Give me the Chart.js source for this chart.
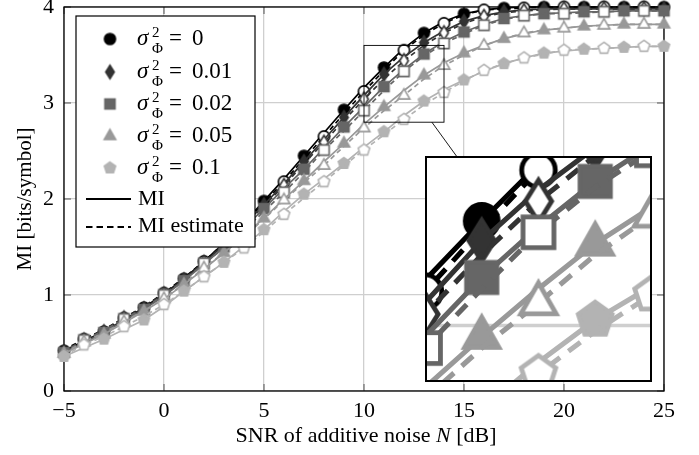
<!DOCTYPE html>
<html>
<head>
<meta charset="utf-8">
<script src="https://cdn.jsdelivr.net/npm/chart.js@4.4.1/dist/chart.umd.min.js"></script>
<style>
  html, body { margin: 0; padding: 0; background: #fff; }
  #wrap { position: relative; width: 699px; height: 455px; }
  #main { position: absolute; left: 0; top: 0; }
  #zoom { position: absolute; left: 425px; top: 156px; }
</style>
</head>
<body>
<div id="wrap">
  <canvas id="main" width="699" height="455"></canvas>
  <canvas id="zoom" width="227" height="226"></canvas>
</div>
<script>
// SNR grid [dB]
const snr = [-5, -4, -3, -2, -1, 0, 1, 2, 3, 4, 5, 6, 7, 8, 9, 10, 11, 12, 13, 14, 15, 16, 17, 18, 19, 20, 21, 22, 23, 24, 25];

// MI (solid) and MI estimate (dashed), one pair per phase noise variance
const mi0  = [0.42, 0.52, 0.62, 0.74, 0.87, 1.01, 1.17, 1.35, 1.54, 1.75, 1.98, 2.21, 2.45, 2.69, 2.93, 3.16, 3.37, 3.57, 3.73, 3.85, 3.93, 3.97, 3.99, 4.00, 4.00, 4.00, 4.00, 4.00, 4.00, 4.00, 4.00];
const est0 = [0.43, 0.54, 0.64, 0.76, 0.88, 1.02, 1.18, 1.35, 1.54, 1.74, 1.96, 2.18, 2.42, 2.65, 2.89, 3.12, 3.34, 3.55, 3.71, 3.83, 3.92, 3.97, 3.98, 3.99, 4.00, 4.00, 4.00, 4.00, 4.00, 4.00, 4.00];
const mi1  = [0.41, 0.51, 0.62, 0.74, 0.86, 1.00, 1.16, 1.34, 1.52, 1.73, 1.94, 2.16, 2.39, 2.62, 2.85, 3.08, 3.30, 3.48, 3.63, 3.75, 3.85, 3.91, 3.95, 3.97, 3.98, 3.98, 3.98, 3.98, 3.98, 3.98, 3.98];
const est1 = [0.42, 0.53, 0.64, 0.76, 0.88, 1.01, 1.17, 1.34, 1.53, 1.72, 1.93, 2.14, 2.37, 2.59, 2.82, 3.04, 3.25, 3.44, 3.60, 3.73, 3.83, 3.90, 3.94, 3.96, 3.97, 3.98, 3.98, 3.98, 3.98, 3.98, 3.98];
const mi2  = [0.40, 0.50, 0.61, 0.73, 0.85, 0.99, 1.15, 1.32, 1.50, 1.70, 1.90, 2.11, 2.31, 2.53, 2.75, 2.96, 3.17, 3.35, 3.51, 3.64, 3.74, 3.82, 3.88, 3.91, 3.93, 3.94, 3.95, 3.95, 3.96, 3.96, 3.96];
const est2 = [0.41, 0.53, 0.63, 0.75, 0.86, 1.00, 1.15, 1.33, 1.49, 1.68, 1.87, 2.07, 2.28, 2.51, 2.71, 2.92, 3.13, 3.33, 3.49, 3.62, 3.72, 3.81, 3.87, 3.91, 3.93, 3.93, 3.94, 3.95, 3.96, 3.96, 3.96];
const mi3  = [0.39, 0.49, 0.59, 0.71, 0.83, 0.96, 1.11, 1.27, 1.44, 1.62, 1.80, 2.00, 2.19, 2.39, 2.58, 2.78, 2.96, 3.13, 3.29, 3.42, 3.52, 3.60, 3.67, 3.72, 3.76, 3.78, 3.80, 3.81, 3.82, 3.82, 3.82];
const est3 = [0.40, 0.51, 0.61, 0.72, 0.84, 0.96, 1.12, 1.28, 1.44, 1.61, 1.79, 1.99, 2.17, 2.35, 2.55, 2.74, 2.92, 3.08, 3.25, 3.39, 3.50, 3.60, 3.67, 3.73, 3.76, 3.78, 3.80, 3.81, 3.82, 3.82, 3.82];
const mi4  = [0.36, 0.45, 0.54, 0.64, 0.74, 0.88, 1.04, 1.19, 1.34, 1.51, 1.68, 1.87, 2.05, 2.21, 2.37, 2.54, 2.70, 2.87, 3.02, 3.14, 3.24, 3.33, 3.41, 3.47, 3.52, 3.54, 3.56, 3.57, 3.58, 3.59, 3.59];
const est4 = [0.37, 0.48, 0.57, 0.67, 0.78, 0.90, 1.04, 1.19, 1.34, 1.49, 1.66, 1.84, 2.01, 2.18, 2.35, 2.51, 2.67, 2.83, 2.98, 3.11, 3.23, 3.34, 3.41, 3.47, 3.51, 3.55, 3.56, 3.57, 3.58, 3.59, 3.59];

const sigmaLabels = ['0', '0.01', '0.02', '0.05', '0.1'];
const xTicks = [-5, 0, 5, 10, 15, 20, 25];
const yTicks = [0, 1, 2, 3, 4];
const zoomX = [10, 14];
const zoomY = [2.8, 3.6];

const miSeries = [mi0, mi1, mi2, mi3, mi4];
const estSeries = [est0, est1, est2, est3, est4];
const colors = ['#000000', '#333333', '#666666', '#999999', '#b3b3b3'];
const shapes = ['circle', 'diamond', 'square', 'triangle', 'pentagon'];

const SERIF = "'Liberation Serif', 'DejaVu Serif', serif";
const INSET = { left: 425, top: 156, w: 227, h: 226 };

function markerCanvas(shape, r, fill, stroke, lw) {
  const pad = Math.ceil(lw) + 2;
  const size = Math.ceil(2 * r * 1.3) + 2 * pad;
  const c = document.createElement('canvas');
  c.width = c.height = size;
  const g = c.getContext('2d');
  g.translate(size / 2, size / 2);
  g.beginPath();
  if (shape === 'circle') {
    g.arc(0, 0, r, 0, 2 * Math.PI);
  } else if (shape === 'square') {
    g.rect(-r * 0.92, -r * 0.92, r * 1.84, r * 1.84);
  } else if (shape === 'diamond') {
    g.moveTo(0, -r * 1.25); g.lineTo(r * 0.78, 0); g.lineTo(0, r * 1.25); g.lineTo(-r * 0.78, 0);
    g.closePath();
  } else if (shape === 'triangle') {
    g.moveTo(0, -r * 1.2); g.lineTo(r * 1.05, r * 0.65); g.lineTo(-r * 1.05, r * 0.65);
    g.closePath();
  } else {
    for (let k = 0; k < 5; k++) {
      const a = (-90 + 72 * k) * Math.PI / 180;
      const px = Math.cos(a) * r * 1.08, py = Math.sin(a) * r * 1.08;
      if (k === 0) g.moveTo(px, py); else g.lineTo(px, py);
    }
    g.closePath();
  }
  g.fillStyle = fill;
  g.fill();
  g.lineWidth = lw;
  g.strokeStyle = stroke;
  g.lineJoin = 'miter';
  g.stroke();
  return c;
}

const legendMarkers = shapes.map((s, i) => markerCanvas(s, 5.6, colors[i], colors[i], 1.4));

function buildDatasets(k) {
  const sets = [];
  let n = 0;
  for (let i = 0; i < miSeries.length; i++) {
    const filled = markerCanvas(shapes[i], 5.6 * k, colors[i], colors[i], 1.4 * k);
    const hollow = markerCanvas(shapes[i], 5.6 * k, '#ffffff', colors[i], 1.6 * k);
    sets.push({
      data: snr.map((x, j) => ({ x: x, y: miSeries[i][j] })),
      borderColor: colors[i],
      backgroundColor: colors[i],
      borderWidth: 1.7 * k,
      pointStyle: filled,
      pointRadius: c => (c.dataIndex % 2 === 0 ? 6 : 0),
      tension: 0,
      order: 100 - n++,
      clip: k === 1 ? false : 0
    });
    sets.push({
      data: snr.map((x, j) => ({ x: x, y: estSeries[i][j] })),
      borderColor: colors[i],
      backgroundColor: '#ffffff',
      borderWidth: 1.7 * k,
      borderDash: [5 * k, 3.5 * k],
      pointStyle: hollow,
      pointRadius: c => (c.dataIndex % 2 === 1 ? 6 : 0),
      tension: 0,
      order: 100 - n++,
      clip: k === 1 ? false : 0
    });
  }
  return sets;
}

function fmtTick(v) {
  return v < 0 ? '\u2212' + Math.abs(v) : String(v);
}

function drawSigmaLabel(ctx, x, cy, val) {
  ctx.fillStyle = '#000';
  ctx.textBaseline = 'alphabetic';
  ctx.textAlign = 'left';
  ctx.font = 'italic 23px ' + SERIF;
  ctx.fillText('\u03c3', x, cy + 6);
  ctx.font = '15px ' + SERIF;
  ctx.fillText('2', x + 15, cy - 2);
  ctx.fillText('\u03a6', x + 15, cy + 14);
  ctx.font = '23px ' + SERIF;
  ctx.fillText('=', x + 32, cy + 6);
  ctx.fillText(val, x + 55, cy + 6);
}

const mainDecor = {
  id: 'mainDecor',
  beforeDatasetsDraw(chart) {
    const { ctx, chartArea: a, scales: { x, y } } = chart;
    ctx.save();
    ctx.strokeStyle = '#555';
    ctx.lineWidth = 1;
    ctx.beginPath();
    xTicks.forEach(v => {
      const px = x.getPixelForValue(v);
      ctx.moveTo(px, a.bottom); ctx.lineTo(px, a.bottom - 7);
      ctx.moveTo(px, a.top); ctx.lineTo(px, a.top + 7);
    });
    yTicks.forEach(v => {
      const py = y.getPixelForValue(v);
      ctx.moveTo(a.left, py); ctx.lineTo(a.left + 7, py);
      ctx.moveTo(a.right, py); ctx.lineTo(a.right - 7, py);
    });
    ctx.stroke();
    ctx.strokeStyle = '#000';
    ctx.lineWidth = 1.3;
    ctx.strokeRect(a.left, a.top, a.right - a.left, a.bottom - a.top);
    ctx.restore();
  },
  afterDraw(chart) {
    const { ctx, chartArea: a, scales: { x, y } } = chart;
    ctx.save();

    // spy rectangle and connector to the inset
    const rx0 = x.getPixelForValue(zoomX[0]), rx1 = x.getPixelForValue(zoomX[1]);
    const ry0 = y.getPixelForValue(zoomY[1]), ry1 = y.getPixelForValue(zoomY[0]);
    ctx.strokeStyle = '#000';
    ctx.lineWidth = 0.9;
    ctx.strokeRect(rx0, ry0, rx1 - rx0, ry1 - ry0);
    const c0 = [(rx0 + rx1) / 2, (ry0 + ry1) / 2];
    const c1 = [INSET.left + INSET.w / 2, INSET.top + INSET.h / 2];
    const dx = c1[0] - c0[0], dy = c1[1] - c0[1];
    const t0 = Math.min(((rx1 - rx0) / 2) / Math.abs(dx), ((ry1 - ry0) / 2) / Math.abs(dy));
    const t1 = 1 - Math.min((INSET.w / 2) / Math.abs(dx), (INSET.h / 2) / Math.abs(dy));
    ctx.beginPath();
    ctx.moveTo(c0[0] + dx * t0, c0[1] + dy * t0);
    ctx.lineTo(c0[0] + dx * t1, c0[1] + dy * t1);
    ctx.stroke();

    // legend
    const L = { left: 76, top: 16, right: 255, bottom: 247 };
    ctx.fillStyle = '#fff';
    ctx.fillRect(L.left, L.top, L.right - L.left, L.bottom - L.top);
    ctx.strokeStyle = '#000';
    ctx.lineWidth = 1.2;
    ctx.strokeRect(L.left, L.top, L.right - L.left, L.bottom - L.top);
    const rowY = [39, 72, 104, 136, 168];
    sigmaLabels.forEach((lab, i) => {
      const m = legendMarkers[i];
      ctx.drawImage(m, 110 - m.width / 2, rowY[i] - m.height / 2);
      drawSigmaLabel(ctx, 137, rowY[i], lab);
    });
    ctx.strokeStyle = '#000';
    ctx.lineWidth = 2;
    ctx.beginPath();
    ctx.moveTo(86, 199); ctx.lineTo(131, 199);
    ctx.stroke();
    ctx.setLineDash([6.5, 4]);
    ctx.beginPath();
    ctx.moveTo(86, 227); ctx.lineTo(131, 227);
    ctx.stroke();
    ctx.setLineDash([]);
    ctx.fillStyle = '#000';
    ctx.font = '22px ' + SERIF;
    ctx.textBaseline = 'middle';
    ctx.textAlign = 'left';
    ctx.fillText('MI', 138, 199);
    ctx.fillText('MI estimate', 138, 226);

    // axis titles
    ctx.font = '21px ' + SERIF;
    ctx.save();
    ctx.translate(25, (a.top + a.bottom) / 2);
    ctx.rotate(-Math.PI / 2);
    ctx.textAlign = 'center';
    ctx.fillText('MI [bits/symbol]', 0, 0);
    ctx.restore();

    const p1 = 'SNR of additive noise ', p2 = 'N', p3 = ' [dB]';
    ctx.font = '22px ' + SERIF;
    const w1 = ctx.measureText(p1).width, w3 = ctx.measureText(p3).width;
    ctx.font = 'italic 22px ' + SERIF;
    const w2 = ctx.measureText(p2).width;
    let tx = (a.left + a.right) / 2 - (w1 + w2 + w3) / 2 + 2;
    const ty = 436;
    ctx.font = '22px ' + SERIF;
    ctx.fillText(p1, tx, ty);
    ctx.font = 'italic 22px ' + SERIF;
    ctx.fillText(p2, tx + w1, ty);
    ctx.font = '22px ' + SERIF;
    ctx.fillText(p3, tx + w1 + w2, ty);
    ctx.restore();
  }
};

new Chart(document.getElementById('main'), {
  type: 'line',
  data: { datasets: buildDatasets(1) },
  options: {
    responsive: false,
    animation: false,
    events: [],
    layout: { autoPadding: false, padding: { left: 0, right: 35, top: 7, bottom: 0 } },
    plugins: { legend: { display: false }, tooltip: { enabled: false } },
    scales: {
      x: {
        type: 'linear', min: -5, max: 25,
        ticks: { stepSize: 5, color: '#000', padding: 7, maxRotation: 0, font: { family: SERIF, size: 22 }, callback: fmtTick },
        grid: { color: '#cfcfcf', lineWidth: 1.3, drawTicks: false },
        border: { display: false },
        afterFit: s => { s.height = 64; s.paddingLeft = 0; s.paddingRight = 0; }
      },
      y: {
        type: 'linear', min: 0, max: 4,
        ticks: { stepSize: 1, color: '#000', padding: 10, font: { family: SERIF, size: 22 }, callback: fmtTick },
        grid: { color: '#cfcfcf', lineWidth: 1.3, drawTicks: false },
        border: { display: false },
        afterFit: s => { s.width = 64; s.paddingTop = 0; s.paddingBottom = 0; }
      }
    }
  },
  plugins: [mainDecor]
});

const insetDecor = {
  id: 'insetDecor',
  beforeDraw(chart) {
    const { ctx, width, height } = chart;
    ctx.save();
    ctx.fillStyle = '#fff';
    ctx.fillRect(0, 0, width, height);
    ctx.restore();
  },
  beforeDatasetsDraw(chart) {
    const { ctx, chartArea: a, scales: { y } } = chart;
    ctx.save();
    ctx.strokeStyle = '#cfcfcf';
    ctx.lineWidth = 3.5;
    yTicks.forEach(v => {
      if (v <= zoomY[0] || v >= zoomY[1]) return;
      const py = y.getPixelForValue(v);
      ctx.beginPath();
      ctx.moveTo(a.left, py); ctx.lineTo(a.right, py);
      ctx.stroke();
    });
    ctx.restore();
  },
  afterDraw(chart) {
    const { ctx, width, height } = chart;
    ctx.save();
    ctx.strokeStyle = '#000';
    ctx.lineWidth = 2;
    ctx.strokeRect(1, 1, width - 2, height - 2);
    ctx.restore();
  }
};

new Chart(document.getElementById('zoom'), {
  type: 'line',
  data: { datasets: buildDatasets(3) },
  options: {
    responsive: false,
    animation: false,
    events: [],
    layout: { autoPadding: false, padding: 0 },
    plugins: { legend: { display: false }, tooltip: { enabled: false } },
    scales: {
      x: { type: 'linear', min: zoomX[0], max: zoomX[1], display: false },
      y: { type: 'linear', min: zoomY[0], max: zoomY[1], display: false }
    }
  },
  plugins: [insetDecor]
});
</script>
</body>
</html>
